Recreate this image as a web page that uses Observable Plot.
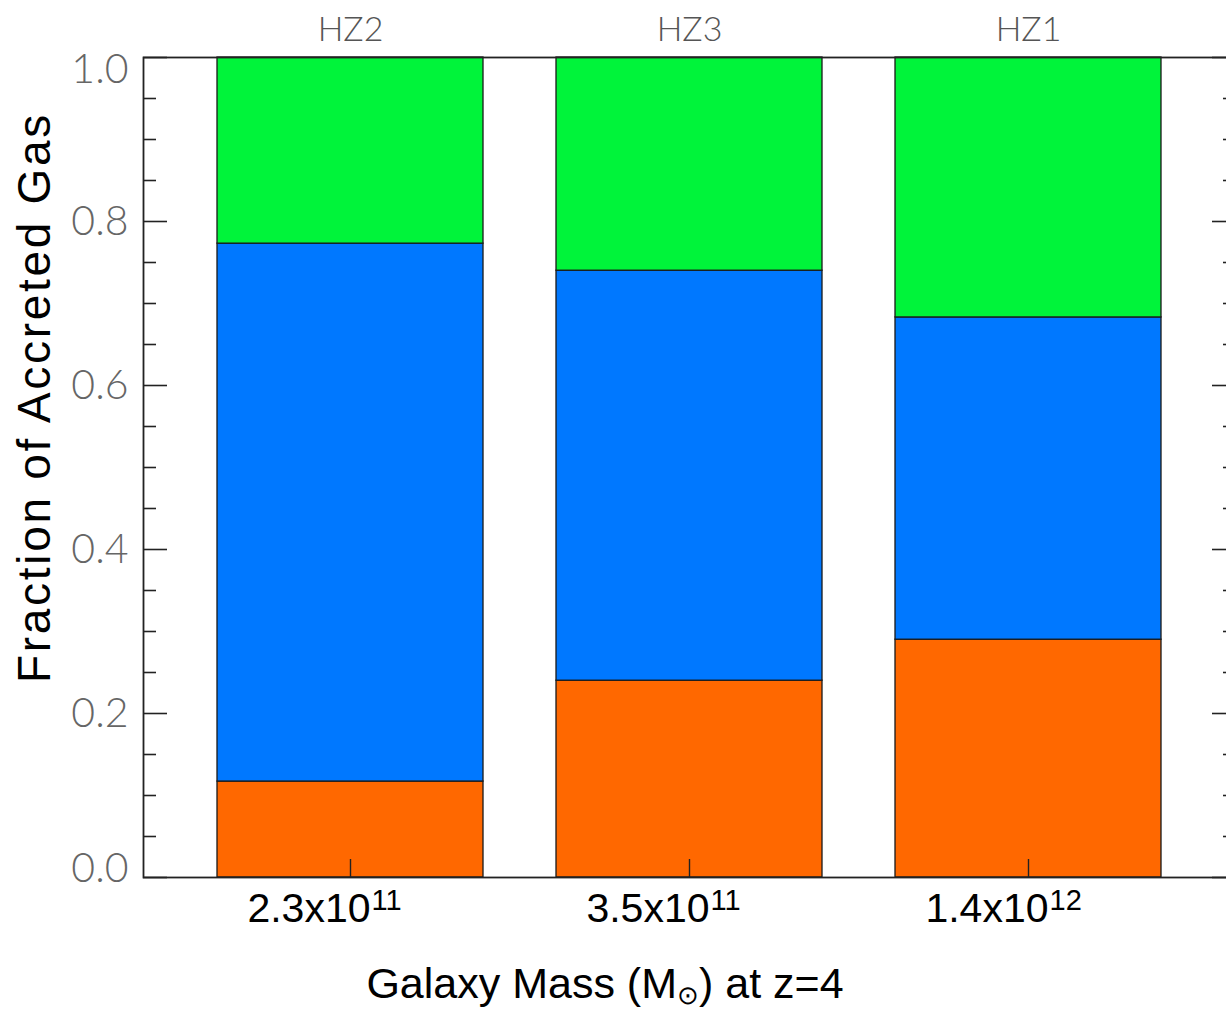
<!DOCTYPE html>
<html><head><meta charset="utf-8">
<script src="https://cdn.jsdelivr.net/npm/d3@7"></script>
<script src="https://cdn.jsdelivr.net/npm/@observablehq/plot@0.6"></script>
<style>
html,body{margin:0;padding:0;background:#fff;overflow:hidden;width:1226px;height:1009px;}
#wrap{position:relative;width:1226px;height:1009px;overflow:hidden;}
#chart svg{max-width:none !important;}
#xtitle{position:absolute;left:0;width:1210px;top:962px;text-align:center;font-family:"Liberation Sans",Arial,sans-serif;font-size:43px;line-height:1;color:#000;white-space:nowrap;}
#xtitle sub{font-size:0.6em;vertical-align:-0.22em;line-height:0;}
</style></head>
<body><div id="wrap"><div id="chart"></div><div id="xtitle">Galaxy Mass (M<sub>⊙</sub>) at z=4</div></div>
<script>
// ---- data ----
const galaxies = ["HZ2", "HZ3", "HZ1"];
const massMantissa = ["2.3", "3.5", "1.4"];
const massExponent = ["11", "11", "12"];
const components = ["Component 1", "Component 2", "Component 3"]; // bottom → top
const comp1 = [0.117, 0.240, 0.290];
const comp2 = [0.656, 0.500, 0.393];
const comp3 = [0.227, 0.260, 0.317];
const yMajorTicks = [0, 0.2, 0.4, 0.6, 0.8, 1.0];
const yMinorTicks = [0.05,0.1,0.15,0.25,0.3,0.35,0.45,0.5,0.55,0.65,0.7,0.75,0.85,0.9,0.95];
const yTickLabels = ["0.0", "0.2", "0.4", "0.6", "0.8", "1.0"];
const yTitle = "Fraction of Accreted Gas";

// ---- styles ----
const colors = ["#ff6800", "#0078ff", "#00f43a"];
const grayFont = "Lato, 'DejaVu Sans', sans-serif";
const sansFont = "'Liberation Sans', Arial, sans-serif";

const series = [comp1, comp2, comp3];
const rows = galaxies.flatMap((g, i) => components.map((c, k) => ({galaxy: g, component: c, value: series[k][i]})));
const massRows = galaxies.map((g, i) => ({galaxy: g, base: massMantissa[i] + "x10", exp: massExponent[i]}));
const yLab = yMajorTicks.map((v, i) => ({v, t: yTickLabels[i]}));

const plot = Plot.plot({
  width: 1235, height: 1009,
  marginLeft: 143, marginRight: 0, marginTop: 57, marginBottom: 132,
  x: {domain: galaxies, padding: 0.215, axis: null},
  y: {domain: [0, 1], axis: null},
  color: {domain: components, range: colors},
  style: {background: "white", overflow: "visible", maxWidth: "none"},
  marks: [
    Plot.barY(rows, {x: "galaxy", y: "value", fill: "component", stroke: "#1a1a1a", strokeWidth: 1.3}),
    Plot.axisY(yMinorTicks, {anchor: "left", tickSize: -13, fill: null, label: null, stroke: "#222", strokeWidth: 1.6}),
    Plot.axisY(yMajorTicks, {anchor: "left", tickSize: -24, fill: null, label: null, stroke: "#222", strokeWidth: 1.6}),
    Plot.axisY(yMinorTicks, {anchor: "right", tickSize: -13, fill: null, label: null, stroke: "#222", strokeWidth: 1.6}),
    Plot.axisY(yMajorTicks, {anchor: "right", tickSize: -24, fill: null, label: null, stroke: "#222", strokeWidth: 1.6}),
    Plot.axisX(galaxies, {anchor: "bottom", tickSize: -18, fill: null, label: null, stroke: "#222", strokeWidth: 1.4}),
    Plot.frame({stroke: "#222", strokeWidth: 1.8}),
    // y tick labels
    Plot.text(yLab.filter(d => d.v > 0 && d.v < 1), {y: "v", text: "t", frameAnchor: "left", textAnchor: "end", lineAnchor: "middle", dx: -15, fontSize: 41, fontFamily: grayFont, fontWeight: 300, fill: "#666"}),
    Plot.text(yLab.filter(d => d.v === 1), {y: "v", text: "t", frameAnchor: "left", textAnchor: "end", lineAnchor: "top", dx: -15, dy: -4, fontSize: 41, fontFamily: grayFont, fontWeight: 300, fill: "#666"}),
    Plot.text(yLab.filter(d => d.v === 0), {y: "v", text: "t", frameAnchor: "left", textAnchor: "end", lineAnchor: "bottom", dx: -15, dy: 4, fontSize: 41, fontFamily: grayFont, fontWeight: 300, fill: "#666"}),
    // galaxy names on top
    Plot.text(galaxies, {x: d => d, text: d => d, frameAnchor: "top", lineAnchor: "middle", textAnchor: "middle", dy: -27, fontSize: 34, fontFamily: grayFont, fontWeight: 300, fill: "#555"}),
    // mass labels
    Plot.text(massRows, {x: "galaxy", text: "base", frameAnchor: "bottom", textAnchor: "end", lineAnchor: "middle", dx: 20, dy: 31, fontSize: 41, fontFamily: sansFont, fill: "#000"}),
    Plot.text(massRows, {x: "galaxy", text: "exp", frameAnchor: "bottom", textAnchor: "start", lineAnchor: "middle", dx: 21, dy: 23, fontSize: 29, fontFamily: sansFont, fill: "#000"}),
    // y title
    Plot.text([yTitle], {text: d => d, frameAnchor: "left", textAnchor: "middle", lineAnchor: "middle", rotate: -90, dx: -108, dy: -70, fontSize: 46, fontFamily: sansFont, fill: "#000"})
  ]
});
document.getElementById("chart").appendChild(plot);
d3.select(plot).selectAll("text").filter(function() { return this.textContent === yTitle; }).style("letter-spacing", "2.7px");
</script>
</body></html>
